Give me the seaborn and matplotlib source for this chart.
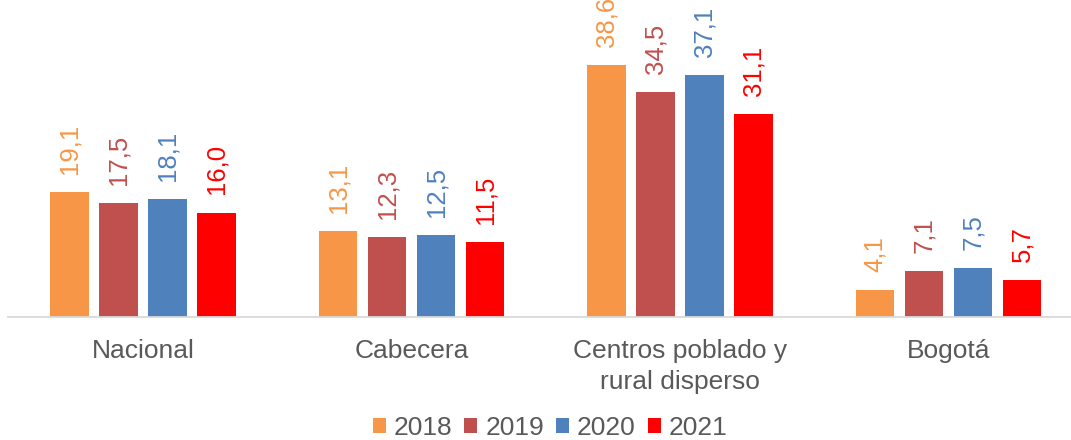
import matplotlib
matplotlib.use("Agg")
import matplotlib.pyplot as plt
import seaborn as sns
import pandas as pd
from matplotlib.patches import Patch

categories = ["Nacional", "Cabecera", "Centros poblado y\nrural disperso", "Bogotá"]
years = ["2018", "2019", "2020", "2021"]
v2018 = [19.1, 13.1, 38.6, 4.1]
v2019 = [17.5, 12.3, 34.5, 7.1]
v2020 = [18.1, 12.5, 37.1, 7.5]
v2021 = [16.0, 11.5, 31.1, 5.7]
colors = ["#F79646", "#C0504D", "#4F81BD", "#FF0000"]

sns.set_theme(style="white")
plt.rcParams['font.family'] = ['Liberation Sans', 'DejaVu Sans']

rows = []
for yr, vals in zip(years, [v2018, v2019, v2020, v2021]):
    for c, v in zip(categories, vals):
        rows.append({"cat": c, "year": yr, "val": v})
df = pd.DataFrame(rows)

fig = plt.figure(figsize=(10.71, 4.40), dpi=100)
ax = fig.add_axes([8/1071, 1-317/440, 1-8/1071, 317/440])

sns.barplot(data=df, x="cat", y="val", hue="year", order=categories,
            hue_order=years, palette=colors, width=0.73, gap=0.22,
            errorbar=None, linewidth=0, saturation=1, ax=ax, legend=False)

for cont, col in zip(ax.containers, colors):
    labels = [f"{b.get_height():.1f}".replace(".", ",") for b in cont]
    ax.bar_label(cont, labels=labels, rotation=90, padding=13,
                 color=col, fontsize=18.5)

ax.set_ylim(0, 317/6.528)
ax.set_xlim(-0.503, 3.456)
ax.set_xlabel("")
ax.set_ylabel("")
ax.set_yticks([])
for s in ["top", "right", "left"]:
    ax.spines[s].set_visible(False)
ax.spines["bottom"].set_color("#D9D9D9")
ax.spines["bottom"].set_linewidth(1.3)
ax.tick_params(axis="x", length=0, pad=16, labelsize=19, labelcolor="#595959")
for t in ax.get_xticklabels():
    t.set_linespacing(1.35)
ax.patch.set_alpha(0)

handles = [Patch(facecolor=c, edgecolor="none") for c in colors]
fig.legend(handles, years, loc="center", bbox_to_anchor=(550/1071, 1-428/440),
           ncol=4, frameon=False, fontsize=19, labelcolor="#595959",
           handlelength=0.5, handleheight=0.5, handletextpad=0.3,
           columnspacing=0.45)

fig.savefig("out.png", dpi=100)
